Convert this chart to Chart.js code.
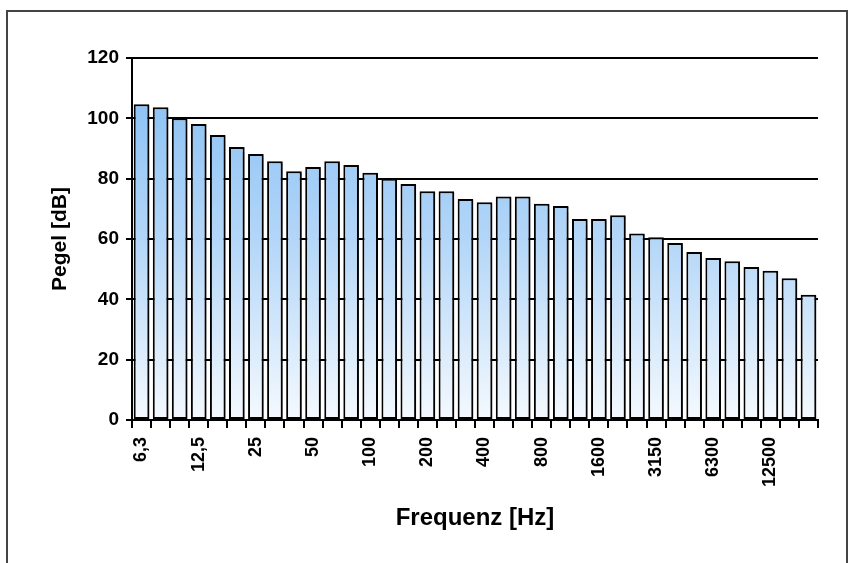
<!DOCTYPE html>
<html>
<head>
<meta charset="utf-8">
<script src="https://cdn.jsdelivr.net/npm/chart.js@4/dist/chart.umd.min.js"></script>
<style>
  body { margin: 0; background: #fff; }
  #frame { position: absolute; left: 6px; top: 10px; width: 838px; height: 600px; border: 2px solid #444; }
  #wrap { position: absolute; left: 0; top: 0; width: 852px; height: 563px; }
</style>
</head>
<body>
<div id="frame"></div>
<div id="wrap"><canvas id="chart" width="852" height="563"></canvas></div>
<script>
// third-octave bands (Hz)
const bands = ["6,3", "8", "10", "12,5", "16", "20", "25", "31,5", "40", "50", "63", "80",
  "100", "125", "160", "200", "250", "315", "400", "500", "630", "800", "1000", "1250",
  "1600", "2000", "2500", "3150", "4000", "5000", "6300", "8000", "10000", "12500", "16000", "20000"];

// Pegel in dB
const levels = [104.7, 103.7, 100, 98.1, 94.5, 90.5, 88.2, 85.8, 82.5, 83.9, 85.8, 84.5,
  82, 80, 78.2, 75.8, 75.8, 73.3, 72.2, 74.1, 74.1, 71.7, 70.9, 66.6, 66.6,
  67.9, 61.8, 60.6, 58.7, 55.7, 53.7, 52.6, 50.7, 49.5, 47, 41.5];

const yTicks = [0, 20, 40, 60, 80, 100, 120];

const FONT = "'Liberation Sans', Arial, sans-serif";

// gradient over the plot area, blue on top fading to white
function barFill(context) {
  const area = context.chart.chartArea;
  if (!area) return "#9ccbf5";
  const g = context.chart.ctx.createLinearGradient(0, area.top, 0, area.bottom);
  g.addColorStop(0, "#82bdf3");
  g.addColorStop(0.5, "#b3d6f8");
  g.addColorStop(1, "#f4f9fe");
  return g;
}

// soft shadow on the right side of bars
const barShadow = {
  id: "barShadow",
  beforeDatasetsDraw(chart) {
    const ctx = chart.ctx;
    ctx.save();
    ctx.shadowColor = "rgba(0,0,0,0.35)";
    ctx.shadowOffsetX = 3;
    ctx.shadowOffsetY = 1;
    ctx.shadowBlur = 1;
  },
  afterDatasetsDraw(chart) {
    chart.ctx.restore();
  }
};

new Chart(document.getElementById("chart"), {
  type: "bar",
  data: {
    labels: bands,
    datasets: [{
      data: levels,
      backgroundColor: barFill,
      borderColor: "#000",
      borderWidth: 2,
      borderSkipped: false,
      barPercentage: 0.82,
      categoryPercentage: 1
    }]
  },
  plugins: [barShadow],
  options: {
    responsive: false,
    animation: false,
    layout: { padding: { left: 44, right: 34, top: 58, bottom: 30 } },
    plugins: {
      legend: { display: false },
      tooltip: { enabled: false }
    },
    scales: {
      x: {
        afterFit(scale) { scale.height = 113; },
        border: { color: "#000", width: 2 },
        grid: {
          offset: true,
          drawOnChartArea: false,
          color: "#000",
          lineWidth: 2,
          tickLength: 8
        },
        ticks: {
          autoSkip: false,
          maxRotation: 90,
          minRotation: 90,
          color: "#000",
          padding: 9,
          font: { family: FONT, size: 18, weight: "bold" },
          callback: (v, i) => (i % 3 === 0 ? bands[i] : "")
        },
        title: {
          display: true,
          text: "Frequenz [Hz]",
          color: "#000",
          padding: { top: 0, bottom: 0 },
          font: { family: FONT, size: 24, weight: "bold" }
        }
      },
      y: {
        min: 0,
        max: 120,
        afterFit(scale) { scale.width = 88; },
        afterBuildTicks(scale) { scale.ticks = yTicks.map(v => ({ value: v })); },
        border: { color: "#000", width: 2 },
        grid: {
          color: "#000",
          lineWidth: 2,
          tickLength: 6
        },
        ticks: {
          color: "#000",
          padding: 7,
          font: { family: FONT, size: 19, weight: "bold" }
        },
        title: {
          display: true,
          text: "Pegel [dB]",
          color: "#000",
          padding: { top: 4, bottom: 0 },
          font: { family: FONT, size: 21, weight: "bold" }
        }
      }
    }
  }
});
</script>
</body>
</html>
